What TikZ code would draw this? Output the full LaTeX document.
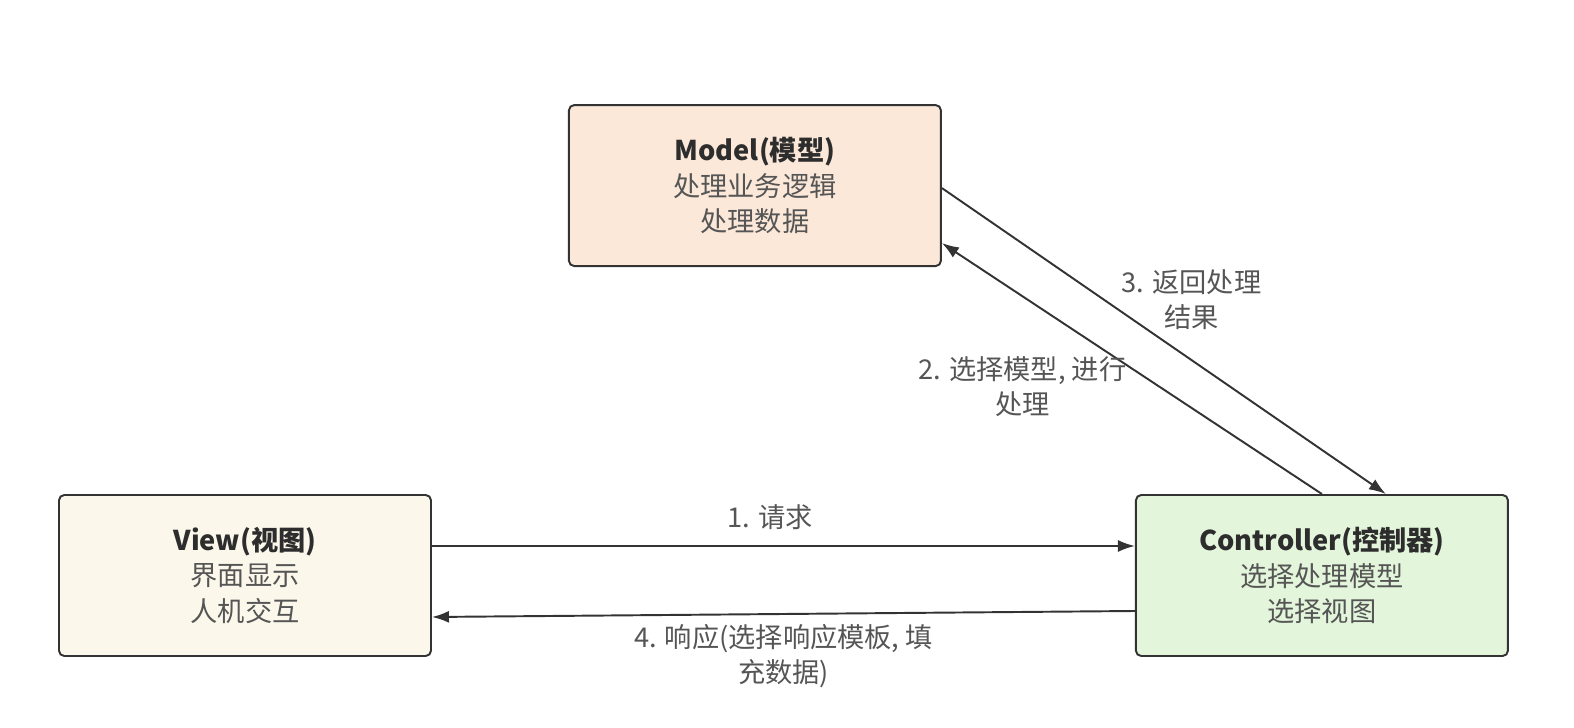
\documentclass[tikz,border=0pt]{standalone}
\usepackage{fontspec}
\newfontfamily\cjk{Noto Sans CJK SC}
\usetikzlibrary{positioning,arrows.meta}

\definecolor{modelfill}{RGB}{251,232,217}
\definecolor{viewfill}{RGB}{251,248,235}
\definecolor{ctrlfill}{RGB}{227,245,218}
\definecolor{edgegray}{RGB}{51,51,51}
\definecolor{titlegray}{RGB}{45,45,45}
\definecolor{textgray}{RGB}{85,85,85}

\tikzset{
  box/.style={draw=edgegray, line width=1.1pt, rounded corners=3pt,
    minimum width=7.44cm, minimum height=3.22cm, align=center,
    font=\cjk\fontsize{15.5}{20.3}\selectfont, text=textgray},
  arr/.style={draw=edgegray, line width=1.1pt,
    -{Latex[length=3.4mm,width=2.4mm]}},
  lbl/.style={align=center, font=\cjk\fontsize{15.5}{20.3}\selectfont,
    text=textgray}
}

\begin{document}
\begin{tikzpicture}
        \useasboundingbox (0,0) rectangle (31.48,-14.56);
        \node[box, fill=viewfill] (view) at (4.9,-11.51)
          {{\color{titlegray}\bfseries View(视图)}\\界面显示\\人机交互};
        \node[box, fill=ctrlfill, right=14.06cm of view] (ctrl)
          {{\color{titlegray}\bfseries Controller(控制器)}\\选择处理模型\\选择视图};
        \node[box, fill=modelfill, above right=4.54cm and 2.72cm of view] (model)
          {{\color{titlegray}\bfseries Model(模型)}\\处理业务逻辑\\处理数据};
        % requests and responses
        \draw[arr] ([yshift=0.59cm]view.east) --
          node[lbl, xshift=-0.27cm, yshift=0.58cm] {1. 请求}
          ([yshift=0.59cm]ctrl.west);
        \draw[arr] ([yshift=-0.71cm]ctrl.west) --
          node[lbl, yshift=-0.84cm] {4. 响应(选择响应模板, 填\\充数据)}
          ([yshift=-0.83cm]view.east);
        % model <-> controller
        \draw[arr] (ctrl.north) --
          node[lbl, xshift=-2.19cm, yshift=-0.36cm] {2. 选择模型, 进行\\处理}
          ([yshift=-1.15cm]model.east);
        \draw[arr] ([yshift=-0.05cm]model.east) --
          node[lbl, xshift=0.55cm, yshift=0.83cm] {3. 返回处理\\结果}
          ([xshift=1.28cm]ctrl.north);
\end{tikzpicture}
\end{document}
